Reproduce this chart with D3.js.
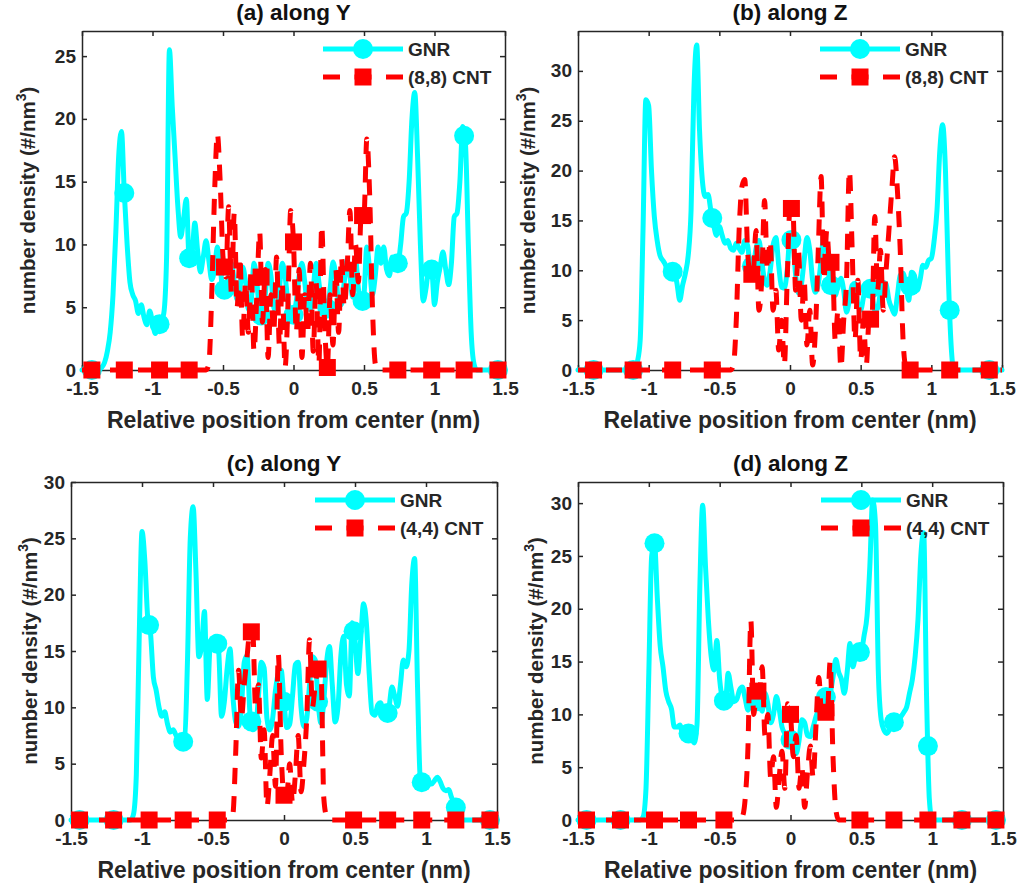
<!DOCTYPE html>
<html>
<head>
<meta charset="utf-8">
<script src="https://cdn.jsdelivr.net/npm/d3@7"></script>
<style>
  body { margin: 0; background: #fff; }
  svg text { font-family: "Liberation Sans", Arial, sans-serif; font-weight: bold; fill: #262626; }
</style>
</head>
<body>
<svg id="fig" width="1020" height="886"></svg>
<script>
// density profiles are sampled every 0.02 nm; outside the listed span the density is 0
const xStep = 0.02;
const xTicks = [-1.5, -1, -0.5, 0, 0.5, 1, 1.5];

// (a) (8,8) CNT, along Y
const gnrStartA = -1.36;
const gnrA = [
  0.2, 0.6, 1.5, 3, 6, 11, 17, 19, 14.1, 10,
  7, 6.0, 5.5, 4.5, 5.2, 4.2, 3.6, 4.7, 3.8, 2.9,
  3.5, 3.8, 4.5, 9, 25.5, 21, 17, 13, 10.6, 12,
  13.6, 8.9, 9.3, 11.7, 9.5, 7.8, 9, 10.3, 8.7, 7.2,
  8, 9.8, 8.2, 6.4, 6.4, 7.5, 8.5, 7, 5.6, 6.5,
  8.2, 7, 4.8, 5.5, 8.5, 7, 4.6, 4.1, 6, 8.5,
  7.5, 5, 4.6, 6.5, 8.5, 7.5, 5.5, 4.5, 4.4, 5.5,
  7.5, 8.5, 7, 5, 4.8, 6.5, 8.5, 7, 5.2, 4.6,
  4.9, 6.5, 8.6, 7.5, 5.5, 5.2, 7, 8.8, 7.5, 5.8,
  8.8, 6.5, 5.0, 6, 9.8, 8, 6, 7.5, 9.8, 8.5,
  9.8, 8, 7.5, 9, 8.5, 8.5, 10, 12.2, 12.5, 15,
  20, 22.1, 17, 10, 5.5, 6.5, 8.1, 8, 5.2, 7,
  8.2, 9.4, 8, 6.8, 8.5, 12.2, 12.5, 15, 19.4, 17.9,
  10, 3, 0.5
];
const cntStartA = -0.62;
const cntA = [
  0, 0.5, 6, 14, 18.8, 15, 9, 7.4, 13, 6,
  12.5, 5, 9, 2.5, 7, 3, 8, 1.5, 6, 11,
  3.8, 8, 1, 6, 3, 9, 2, 7, 0.2, 5,
  12.7, 10.2, 3, 8, 1, 6, 3, 8.5, 1.5, 7,
  0.5, 11.5, 4, 0.2, 6, 2, 8, 3, 9, 5,
  8, 12.7, 6, 10, 7, 12.3, 12.3, 18.4, 14, 5,
  0.5, 0
];
const markA = [-1.43, -1.2, -0.95, -0.74, -0.49, -0.23, 0, 0.24, 0.49, 0.74, 0.98, 1.21, 1.45];

// (b) (8,8) CNT, along Z
const gnrStartB = -1.10;
const gnrB = [
  0, 0.8, 3, 14, 27.1, 26.5, 20, 15.4, 13, 11.5,
  11, 10.5, 9.4, 9.8, 9.9, 8.7, 7.0, 8.5, 9.7, 11.5,
  16, 28, 32.6, 24, 19, 17.4, 17.6, 16, 14.5, 13.5,
  14.4, 13.5, 12.7, 13, 12.2, 12, 12.7, 12.2, 11.8, 13.0,
  12.5, 10.3, 10.5, 12.2, 13, 11, 9, 8.5, 10, 12.5,
  13.3, 10.5, 8.3, 8.2, 10, 13.3, 12.8, 9.5, 7.7, 8.5,
  11, 13.3, 12, 9, 7.8, 8.6, 11, 13.6, 12, 9,
  8, 7.5, 8.5, 9.2, 8, 5.8, 7, 8.5, 8.7, 6.5,
  6.0, 7.3, 8.6, 8.8, 7.5, 6.0, 6.2, 7.8, 8.8, 8.6,
  7, 6.2, 5.6, 7.5, 9.5, 9.7, 8.5, 7, 9.8, 9.5,
  8, 9, 10.5, 10.3, 11, 11.2, 13, 16, 22, 24.6,
  20, 9.5, 2.5, 0
];
const cntStartB = -0.42;
const cntB = [
  0, 0.5, 5, 14, 18.4, 19.1, 12, 9.4, 9.8, 14,
  6, 9, 17, 10, 13, 6, 8, 2, 5, 0.5,
  9, 16.2, 16.2, 8, 12, 5, 9, 2.5, 6, 0.5,
  4, 12, 19.4, 9, 14, 10.8, 10.8, 3, 6, 0.2,
  5, 9, 20, 12, 3, 9, 1, 5, 0.5, 5.1,
  5.1, 15.4, 8, 12, 6, 10, 14, 18, 21.4, 18,
  12, 3, 0.3, 0
];
const markB = [-1.39, -1.11, -0.83, -0.55, -0.27, 0.01, 0.29, 0.57, 0.85, 1.13, 1.41];

// (c) (4,4) CNT, along Y
const gnrStartC = -1.08;
const gnrC = [
  0, 0.5, 4, 16, 25.6, 23, 18, 16.6, 12.7, 11.5,
  10, 9.2, 9.6, 8.5, 7.8, 8.0, 7.5, 7.2, 6.9, 7,
  14, 25, 27.8, 22, 14.5, 15.5, 18.5, 10.7, 15.5, 16,
  16.3, 15, 9.2, 10.5, 13.5, 15.2, 11, 8.7, 8.3, 10,
  14, 14.6, 9.5, 8, 8.2, 11, 14, 13.5, 9, 8,
  9, 11.5, 13, 13.3, 10.5, 8.2, 8.5, 11, 13.8, 14,
  10, 8.3, 9, 12, 14.5, 14.2, 10.5, 8.6, 10.5, 14,
  15.4, 12, 8.7, 10, 14.5, 16.3, 12, 11, 17.5, 16,
  13, 16, 19.2, 17.5, 13, 9.5, 9.3, 10.2, 10.4, 9.4,
  9.0, 10, 11.8, 11, 10.1, 12, 14.2, 13.6, 15, 21,
  23.2, 12, 3.6, 3.1, 3.4, 3.3, 3.2, 3.5, 3.8, 3.4,
  2.8, 2.6, 2.7, 2.0, 1.4, 0.8, 0.1, 0
];
const cntStartC = -0.38;
const cntC = [
  0, 0.5, 6, 13.3, 9, 12, 14.5, 16.7, 16.7, 10,
  12, 5.5, 8, 1.2, 4, 7.5, 3, 14.7, 6, 2.2,
  2.2, 5, 1.5, 4, 7.5, 2.5, 5, 9, 16, 10,
  12, 13.4, 13.4, 2, 0.3, 0
];
const markC = [-1.44, -1.2, -0.95, -0.71, -0.47, -0.23, 0, 0.24, 0.49, 0.73, 0.97, 1.21, 1.45];

// (d) (4,4) CNT, along Z
const gnrStartD = -1.06;
const gnrD = [
  0, 0.3, 3, 14, 25, 26.2, 21, 16.5, 14.5, 12.2,
  11.2, 10.5, 8.8, 8.8, 9, 7.9, 7.6, 8.2, 7.8, 7.3,
  9, 22, 29.8, 24, 19, 15.5, 14.2, 17, 13.3, 11.5,
  11.1, 13.9, 12.5, 11.2, 11.4, 12.3, 12.6, 11.5, 10.4, 11,
  12, 11.5, 11, 10.3, 12, 11, 9.2, 10, 11.7, 10.5,
  8.8, 8.2, 7.8, 7.6, 7.0, 6.3, 7.5, 9.5, 9.2, 8.0,
  7.9, 8.8, 9.8, 10.5, 11.5, 11.8, 11.5, 12, 13.5, 15.2,
  14, 13.3, 12, 14, 16.7, 14.5, 15.5, 15.8, 16, 17.5,
  19.3, 24, 30.3, 28, 14, 9.5, 8.5, 8.2, 8.6, 9.2,
  9.3, 9.6, 9.8, 10.2, 10.7, 12, 13.3, 15.5, 19, 25,
  27.2, 12, 2, 0
];
const cntStartD = -0.36;
const cntD = [
  0, 0.3, 2, 7, 18.9, 10, 12.2, 12.2, 14.5, 8,
  10, 4, 6, 1.2, 4, 6.5, 3, 11, 10, 6,
  8, 3, 5, 1.2, 4.5, 7, 4, 9, 13.5, 10,
  10.2, 10.2, 15, 6, 1, 0
];
const markD = [-1.44, -1.2, -0.96, -0.72, -0.47, -0.23, 0, 0.25, 0.49, 0.73, 0.97, 1.21, 1.45];

// full profile from -1.5 to 1.5 nm
function build(start, vals) {
  return d3.range(151).map(i => {
    const x = -1.5 + i * xStep;
    const k = Math.round((x - start) / xStep);
    return [x, k >= 0 && k < vals.length ? vals[k] : 0];
  });
}

// read the profile at a marker position
function valueAt(series, x) {
  const f = (x + 1.5) / xStep;
  const i = Math.max(0, Math.min(149, Math.floor(f)));
  const t = f - i;
  return series[i][1] * (1 - t) + series[i + 1][1] * t;
}

const panels = [
  { title: "(a) along Y", cntName: "(8,8) CNT", left: 82, right: 505, top: 31, bottom: 370,
    yMax: 27, yTicks: [0, 5, 10, 15, 20, 25], ylabX: 35,
    gnr: build(gnrStartA, gnrA), cnt: build(cntStartA, cntA), marks: markA },
  { title: "(b) along Z", cntName: "(8,8) CNT", left: 578, right: 1002, top: 31, bottom: 370,
    yMax: 34, yTicks: [0, 5, 10, 15, 20, 25, 30], ylabX: 535,
    gnr: build(gnrStartB, gnrB), cnt: build(cntStartB, cntB), marks: markB },
  { title: "(c) along Y", cntName: "(4,4) CNT", left: 71, right: 497, top: 482, bottom: 820,
    yMax: 30, yTicks: [0, 5, 10, 15, 20, 25, 30], ylabX: 37,
    gnr: build(gnrStartC, gnrC), cnt: build(cntStartC, cntC), marks: markC },
  { title: "(d) along Z", cntName: "(4,4) CNT", left: 578, right: 1003, top: 482, bottom: 820,
    yMax: 32, yTicks: [0, 5, 10, 15, 20, 25, 30], ylabX: 543,
    gnr: build(gnrStartD, gnrD), cnt: build(cntStartD, cntD), marks: markD }
];

const ink = "#262626";
const cyan = "#00ffff";
const red = "#ff0000";
const dash = "16,12";

const svg = d3.select("#fig");

function styleAxis(g, size) {
  g.attr("font-family", null).attr("font-size", size + "px");
  g.selectAll("path.domain").attr("stroke", ink).attr("stroke-width", 1.5);
  g.selectAll(".tick line").attr("stroke", ink).attr("stroke-width", 1.5);
  g.selectAll(".tick text").attr("fill", ink);
}

function square(g, cx, cy, s) {
  g.append("rect").attr("x", cx - s / 2).attr("y", cy - s / 2)
    .attr("width", s).attr("height", s).attr("fill", red);
}

// plain hyphen for negatives, like the original figure
const plain = d => String(d);

panels.forEach(p => {
  const x = d3.scaleLinear().domain([-1.5, 1.5]).range([p.left, p.right]);
  const y = d3.scaleLinear().domain([0, p.yMax]).range([p.bottom, p.top]);
  const g = svg.append("g");

  // axes box with inward ticks on all sides
  g.append("g").attr("transform", `translate(0,${p.bottom})`)
    .call(d3.axisBottom(x).tickValues(xTicks).tickFormat(plain).tickSize(-5).tickSizeOuter(0).tickPadding(12))
    .call(a => styleAxis(a, 19));
  g.append("g").attr("transform", `translate(0,${p.top})`)
    .call(d3.axisTop(x).tickValues(xTicks).tickFormat("").tickSize(-5).tickSizeOuter(0))
    .call(a => styleAxis(a, 19));
  g.append("g").attr("transform", `translate(${p.left},0)`)
    .call(d3.axisLeft(y).tickValues(p.yTicks).tickFormat(plain).tickSize(-5).tickSizeOuter(0).tickPadding(6))
    .call(a => styleAxis(a, 19));
  g.append("g").attr("transform", `translate(${p.right},0)`)
    .call(d3.axisRight(y).tickValues(p.yTicks).tickFormat("").tickSize(-5).tickSizeOuter(0))
    .call(a => styleAxis(a, 19));

  const line = d3.line().x(d => x(d[0])).y(d => y(d[1])).curve(d3.curveMonotoneX);

  // GNR
  g.append("path").datum(p.gnr).attr("d", line)
    .attr("fill", "none").attr("stroke", cyan).attr("stroke-width", 5)
    .attr("stroke-linejoin", "round").attr("stroke-linecap", "round");
  p.marks.forEach(m => {
    g.append("circle").attr("cx", x(m)).attr("cy", y(valueAt(p.gnr, m))).attr("r", 10).attr("fill", cyan);
  });

  // CNT
  g.append("path").datum(p.cnt).attr("d", line)
    .attr("fill", "none").attr("stroke", red).attr("stroke-width", 5)
    .attr("stroke-dasharray", dash).attr("stroke-linejoin", "round");
  p.marks.forEach(m => square(g, x(m), y(valueAt(p.cnt, m)), 17));

  // title and labels
  g.append("text").attr("x", (p.left + p.right) / 2).attr("y", p.top - 11)
    .attr("text-anchor", "middle").attr("font-size", "22.5px").style("fill", "#111").text(p.title);
  g.append("text").attr("x", (p.left + p.right) / 2).attr("y", p.bottom + 58)
    .attr("text-anchor", "middle").attr("font-size", "23px")
    .text("Relative position from center (nm)");
  const yl = g.append("text")
    .attr("transform", `translate(${p.ylabX},${(p.top + p.bottom) / 2}) rotate(-90)`)
    .attr("text-anchor", "middle").attr("font-size", "20.5px");
  yl.append("tspan").text("number density (#/nm");
  yl.append("tspan").attr("dy", -9).attr("font-size", "14px").text("3");
  yl.append("tspan").attr("dy", 9).text(")");

  // legend
  const lx = p.right - 182, tx = p.right - 97;
  const r1 = p.top + 18, r2 = p.top + 46;
  g.append("line").attr("x1", lx).attr("x2", lx + 80).attr("y1", r1).attr("y2", r1)
    .attr("stroke", cyan).attr("stroke-width", 5);
  g.append("circle").attr("cx", lx + 40).attr("cy", r1).attr("r", 10).attr("fill", cyan);
  g.append("text").attr("x", tx).attr("y", r1).attr("dy", "0.35em").attr("font-size", "19px").text("GNR");
  g.append("line").attr("x1", lx).attr("x2", lx + 80).attr("y1", r2).attr("y2", r2)
    .attr("stroke", red).attr("stroke-width", 5).attr("stroke-dasharray", "17,14.5");
  square(g, lx + 40, r2, 17);
  g.append("text").attr("x", tx).attr("y", r2).attr("dy", "0.35em").attr("font-size", "19px").text(p.cntName);
});
</script>
</body>
</html>
